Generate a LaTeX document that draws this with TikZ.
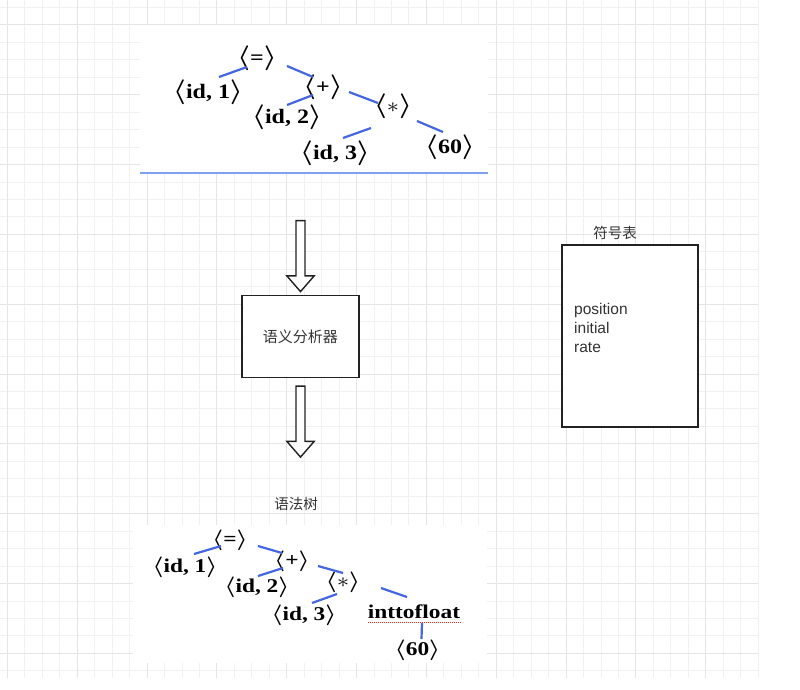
\documentclass[tikz,border=0pt]{standalone}
\usepackage{graphicx}
\usepackage{fontspec}
\setmainfont{Liberation Serif}
\newfontfamily\cjk{Noto Sans CJK SC}
\newfontfamily\latinsans{Liberation Sans}
\usetikzlibrary{shapes.arrows, calc}
\def\bracketsize{24}
\def\stretchfactor{1.17}
\newcommand{\anglebracket}[1]{{\fontsize{\bracketsize}{\bracketsize}\selectfont\boldmath$#1$}}
\newcommand{\tokenlabel}[1]{\scalebox{\stretchfactor}[1]{\anglebracket{\langle}#1\anglebracket{\rangle}}}
\newcommand{\widetext}[1]{\scalebox{\stretchfactor}[1]{#1}}
\begin{document}
\begin{tikzpicture}[x=1pt, y=-1pt,
    treenode/.style={inner sep=0pt, text=black, font={\def\bracketsize{23}\def\stretchfactor{1.17}\fontsize{20.5}{20.5}\selectfont\bfseries}},
    smalltreenode/.style={inner sep=0pt, text=black, font={\def\bracketsize{22}\def\stretchfactor{1.2}\fontsize{19.5}{19.5}\selectfont\bfseries}},
    branch/.style={draw=Bcolor, line width=2.2pt},
    gridminor/.style={draw=Gminor, line width=1pt},
    gridmajor/.style={draw=Gmajor, line width=1pt},
    cjklabel/.style={inner sep=0pt, text=Tcolor, font=\cjk\fontsize{14.5}{14.5}\selectfont},
    hollowarrow/.style={draw=Lcolor, fill=white, line width=1.4pt, single arrow, shape border rotate=270,
        single arrow tip angle=82, single arrow head extend=9.2pt, minimum height=71pt, inner sep=3.8pt}]
            \definecolor{Bcolor}{RGB}{68, 102, 226}
            \definecolor{Gminor}{RGB}{241, 241, 241}
            \definecolor{Gmajor}{RGB}{229, 229, 229}
            \definecolor{Lcolor}{RGB}{34, 34, 34}
            \definecolor{Tcolor}{RGB}{51, 51, 51}
            \definecolor{Pcolor}{RGB}{125, 160, 240}
            \def\gridstep{17.46}
            \def\gridoffset{7.4}
            \useasboundingbox (0,0) rectangle (800,689);
            \fill[white] (0,0) rectangle (800,689);
            % grid paper
            \foreach \k in {0,...,43} \draw[gridminor] ({\gridoffset+\gridstep*\k},0) -- ({\gridoffset+\gridstep*\k},678);
            \foreach \k in {0,...,38} \draw[gridminor] (0,{\gridoffset+\gridstep*\k}) -- (758,{\gridoffset+\gridstep*\k});
            \foreach \k in {0,4,...,40} \draw[gridmajor] ({\gridoffset+\gridstep*\k},0) -- ({\gridoffset+\gridstep*\k},678);
            \foreach \k in {1,5,...,37} \draw[gridmajor] (0,{\gridoffset+\gridstep*\k}) -- (758,{\gridoffset+\gridstep*\k});
            % pasted panels
            \fill[white] (140,25) rectangle (488,173);
            \draw[draw=Pcolor, line width=1.2pt] (140,173) -- (488,173);
            \fill[white] (133,525) rectangle (487,663);
            % upper tree
            \node[treenode] (eqTop) at (257,58) {\tokenlabel{=}};
            \node[treenode] (idOneTop) at (208,92) {\tokenlabel{id, 1}};
            \node[treenode] (plusTop) at (323,87) {\tokenlabel{+}};
            \node[treenode] (idTwoTop) at (287,117) {\tokenlabel{id, 2}};
            \node[treenode] (starTop) at (393,106) {\tokenlabel{$\ast$}};
            \node[treenode] (idThreeTop) at (335,153) {\tokenlabel{id, 3}};
            \node[treenode] (sixtyTop) at (450,147) {\tokenlabel{60}};
            \draw[branch] ($(idOneTop)+(11,-15)$) -- ($(eqTop)+(-10,9)$);
            \draw[branch] ($(eqTop)+(30,8)$) -- ($(plusTop)+(-10,-10)$);
            \draw[branch] ($(idTwoTop)+(0,-12)$) -- ($(plusTop)+(-10,8)$);
            \draw[branch] ($(plusTop)+(26,5)$) -- ($(starTop)+(-15,-3)$);
            \draw[branch] ($(idThreeTop)+(8,-15)$) -- ($(starTop)+(-22,22)$);
            \draw[branch] ($(starTop)+(24,15)$) -- ($(sixtyTop)+(-7,-15)$);
            % analyser
            \node[hollowarrow] (arrowIn) at (300.5,253.5) {};
            \node[draw=Lcolor, line width=1.8pt, fill=white, minimum width=117pt, minimum height=82pt,
                text=Tcolor, font=\cjk\fontsize{15}{15}\selectfont] (analyzer) at (300.3,336.5) {语义分析器};
            \node[hollowarrow] (arrowOut) at (300.5,419) {};
            % symbol table
            \node[cjklabel] (symtabTitle) at (615,232.5) {符号表};
            \node[draw=Lcolor, line width=1.8pt, fill=white, minimum width=136.6pt, minimum height=181.7pt] (symtab) at (630,335.9) {};
            \node[anchor=west, align=left, inner sep=0pt, text=Tcolor, font=\latinsans\fontsize{15.5}{18.7}\selectfont] (symtabEntries) at (574,328) {position\\initial\\rate};
            % lower tree
            \node[cjklabel] (treeTitle) at (296,503.5) {语法树};
            \node[smalltreenode] (eqBot) at (230,540) {\tokenlabel{=}};
            \node[smalltreenode] (idOneBot) at (185,567) {\tokenlabel{id, 1}};
            \node[smalltreenode] (plusBot) at (292,561) {\tokenlabel{+}};
            \node[smalltreenode] (idTwoBot) at (257,587) {\tokenlabel{id, 2}};
            \node[smalltreenode] (starBot) at (343,582) {\tokenlabel{$\ast$}};
            \node[smalltreenode] (idThreeBot) at (304,615) {\tokenlabel{id, 3}};
            \node[smalltreenode] (itfBot) at (414,612) {\widetext{inttofloat}};
            \node[smalltreenode] (sixtyBot) at (417.5,650) {\tokenlabel{60}};
            \draw[branch] ($(idOneBot)+(9,-13)$) -- ($(eqBot)+(-9,6)$);
            \draw[branch] ($(eqBot)+(28,6)$) -- ($(plusBot)+(-10,-8)$);
            \draw[branch] ($(idTwoBot)+(1,-11)$) -- ($(plusBot)+(-9,7)$);
            \draw[branch] ($(plusBot)+(26,5)$) -- ($(starBot)+(0,-9)$);
            \draw[branch] ($(idThreeBot)+(8,-12)$) -- ($(starBot)+(-6,12)$);
            \draw[branch] ($(starBot)+(38,6)$) -- ($(itfBot)+(-7,-15)$);
            \draw[branch] ($(itfBot)+(8,11)$) -- ($(sixtyBot)+(4,-11)$);
            \draw[draw=red!85, line width=0.8pt, dash pattern=on 1pt off 1pt] ([yshift=-3.5pt]itfBot.south west) -- ([yshift=-3.5pt]itfBot.south east);
        \end{tikzpicture}
\end{document}
